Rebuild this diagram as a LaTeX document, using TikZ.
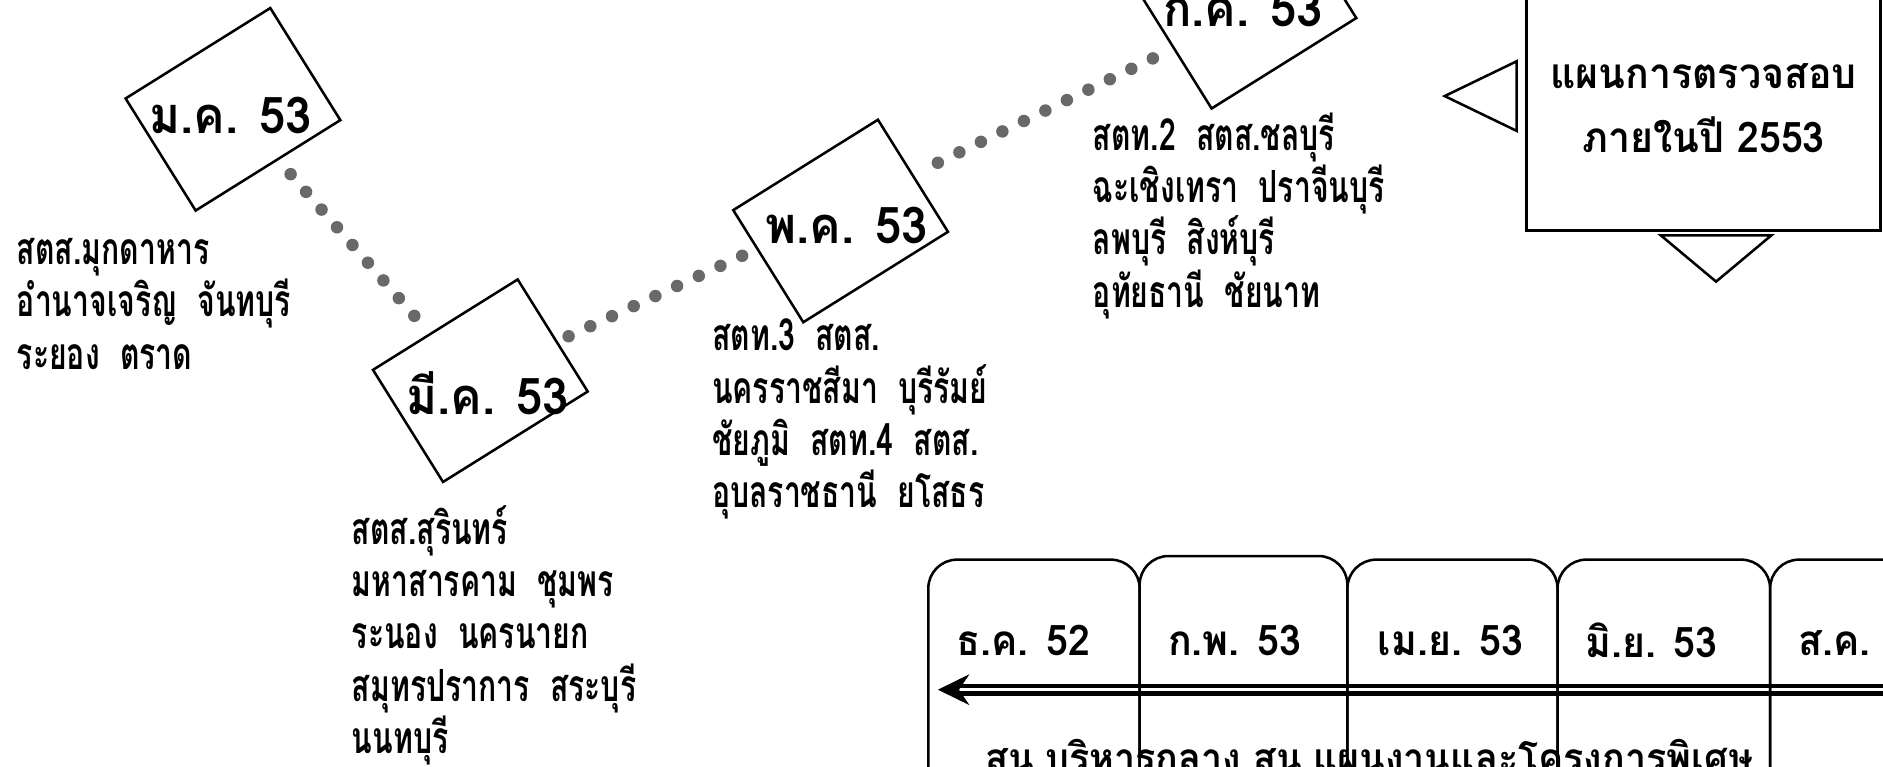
\documentclass[tikz,border=0pt]{standalone}
\usepackage{fontspec}
\newfontfamily\thaifont[Script=Thai,FakeStretch=0.93]{Loma}
\newfontfamily\thaicond[Script=Thai,FakeStretch=0.68]{Loma}
\usetikzlibrary{arrows.meta,calc}
\definecolor{dotgray}{RGB}{105,105,105}

\begin{document}
\begin{tikzpicture}[x=0.01cm,y=-0.01cm,line width=0.6pt,
  monthbox/.style={draw,rotate=32,minimum width=1.42cm,minimum height=1.10cm,inner sep=0pt},
  monthlabel/.style={inner sep=0pt,font=\thaifont\bfseries\fontsize{12}{14}\selectfont},
  placetext/.style={anchor=west,align=left,inner sep=0pt,font=\thaicond\bfseries\fontsize{10.5}{12.4}\selectfont},
  planbox/.style={draw,minimum width=2.95cm,minimum height=2.04cm,inner sep=0pt,align=center,font=\thaifont\bfseries\fontsize{10}{15.2}\selectfont},
  tabline/.style={rounded corners=0.24cm},
  tablabel/.style={inner sep=0pt,font=\thaifont\bfseries\fontsize{10}{12}\selectfont},
  unitlabel/.style={inner sep=0pt,anchor=base west,font=\thaifont\bfseries\fontsize{9.6}{12}\selectfont}]
  \path[use as bounding box,clip] (0,0) rectangle (1568,638);

  % month boxes on the trail
  \node[monthbox] (jan) at (194,91) {};
  \node[monthbox] (mar) at (400,317) {};
  \node[monthbox] (may) at (700,184) {};
  \node[monthbox] (jul) at (1040,6) {};
  \node[monthlabel] (janlabel) at (192,96) {ม.ค. 53};
  \node[monthlabel] (marlabel) at (406,327) {มี.ค. 53};
  \node[monthlabel] (maylabel) at (705,188) {พ.ค. 53};
  \node[monthlabel] (jullabel) at (1035,7) {ก.ค. 53};

  % dotted trail between the boxes
  \coordinate (d1s) at (242,145);   \coordinate (d1e) at (345,263);
  \coordinate (d2s) at (473.5,280); \coordinate (d2e) at (618,213);
  \coordinate (d3s) at (781,135.5); \coordinate (d3e) at (960,48.6);
  \foreach \i in {0,...,8}
    \fill[dotgray] ($(d1s)!\i/8!(d1e)$) circle (0.052cm);
  \foreach \i in {0,...,8}
    \fill[dotgray] ($(d2s)!\i/8!(d2e)$) circle (0.052cm);
  \foreach \i in {0,...,10}
    \fill[dotgray] ($(d3s)!\i/10!(d3e)$) circle (0.052cm);

  % units checked in each month
  \node[placetext] (eastlist) at (13,253) {สตส.มุกดาหาร\\อำนาจเจริญ~~จันทบุรี\\ระยอง~~ตราด};
  \node[placetext] (southlist) at (292,529) {สตส.สุรินทร์\\มหาสารคาม~~ชุมพร\\ระนอง~~นครนายก\\สมุทรปราการ~~สระบุรี\\นนทบุรี};
  \node[placetext] (northeastlist) at (592,349) {สตท.3~~สตส.\\นครราชสีมา~~บุรีรัมย์\\ชัยภูมิ~~สตท.4~~สตส.\\อุบลราชธานี~~ยโสธร};
  \node[placetext] (centrallist) at (909,179.5) {สตท.2~~สตส.ชลบุรี\\ฉะเชิงเทรา~~ปราจีนบุรี\\ลพบุรี~~สิงห์บุรี\\อุทัยธานี~~ชัยนาท};

  % plan box and its pointers
  \node[planbox] (plan) at (1418.5,90) {แผนการตรวจสอบ\\ภายในปี 2553};
  \draw (1263,51) -- (1203,80) -- (1263,109) -- cycle;
  \draw (1383,196) -- (1475,196) -- (1429,234.5) -- cycle;

  % timeline
  \coordinate (flowstart) at (1600,574.3);
  \coordinate (flowend) at (781,574.3);
  \draw[double,double distance=0.8pt,line width=1pt,-{Stealth[length=7.4pt,width=7.2pt,inset=2.4pt]}] (flowstart) -- (flowend);
  \node[unitlabel] (units) at (820,643) {สน.บริหารกลาง สน.แผนงานและโครงการพิเศษ};
  \foreach \l/\r/\t in {773/949/466,949/1122/463,1122/1297/466,1297/1474/466,1474/1650/466}
    \draw[tabline] (\l,660) |- (\r,\t) -- (\r,660);
  \node[tablabel] (dec) at (852,533) {ธ.ค. 52};
  \node[tablabel] (feb) at (1028,533) {ก.พ. 53};
  \node[tablabel] (apr) at (1208,533) {เม.ย. 53};
  \node[tablabel] (jun) at (1375,533) {มิ.ย. 53};
  \node[tablabel] (aug) at (1553,533) {ส.ค. 53};
\end{tikzpicture}
\end{document}
